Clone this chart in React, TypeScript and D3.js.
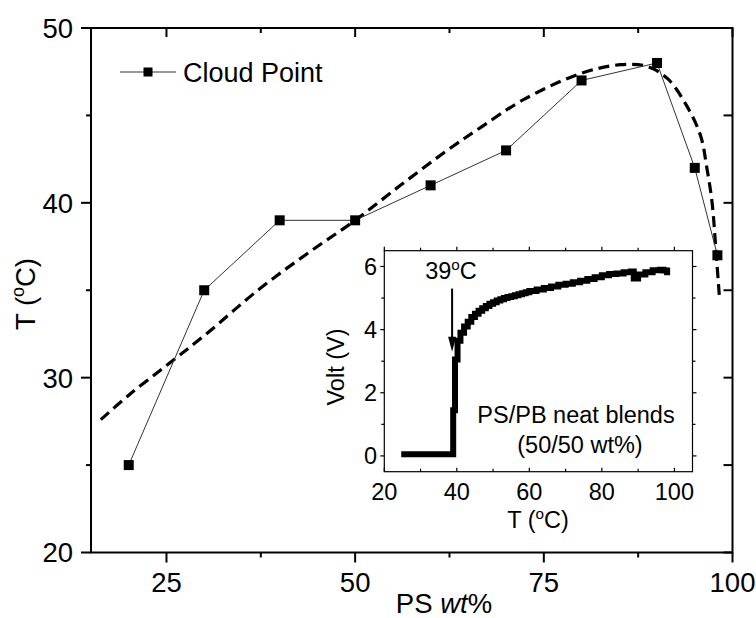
import React from "react";
import * as d3 from "d3";

// Main plot: cloud point data
const psWt = [20, 30, 40, 50, 60, 70, 80, 90, 95, 98];
const cloudT = [25, 35, 39, 39, 41, 43, 47, 48, 42, 37];

// Dashed fitted curve
const fitX = [16.3, 20, 25, 30, 37.4, 44, 50, 56, 62.2, 66.6, 72.3, 79.9, 85.2, 88.7, 91.4, 94.0, 95.8, 96.6, 97.3, 97.8, 98.2, 98.3];
const fitY = [27.6, 29.0, 30.7, 32.4, 35.1, 37.2, 39.0, 41.0, 43.0, 44.3, 45.9, 47.4, 47.9, 47.8, 47.1, 45.5, 43.8, 42.0, 40.0, 37.3, 35.0, 34.4];

const mainXTicks = [25, 50, 75, 100];
const mainXMinor = [37.5, 62.5, 87.5];
const mainYTicks = [20, 30, 40, 50];
const mainYMinor = [25, 35, 45];

// Inset: voltage vs temperature
const insetT = [25.5, 39, 39.5, 40.2, 41, 42, 43, 44, 45, 46, 47, 48, 49, 50, 51, 52, 53, 54, 55, 56, 57, 58, 59, 60, 62, 64, 66, 68, 70, 72, 74, 76, 78, 80, 82, 84, 86, 88, 88.8, 90, 92, 94, 96, 97, 98];
const insetV = [0.05, 1.45, 3.05, 3.65, 3.9, 4.1, 4.25, 4.4, 4.5, 4.6, 4.68, 4.75, 4.82, 4.87, 4.92, 4.96, 5.0, 5.03, 5.06, 5.09, 5.12, 5.15, 5.18, 5.22, 5.27, 5.32, 5.37, 5.42, 5.45, 5.5, 5.55, 5.6, 5.66, 5.72, 5.76, 5.78, 5.82, 5.84, 5.62, 5.75, 5.82, 5.88, 5.9, 5.87, 5.82];
const insetXTicks = [20, 40, 60, 80, 100];
const insetXMinor = [30, 50, 70, 90];
const insetYTicks = [0, 2, 4, 6];
const insetYMinor = [1, 3, 5];

const FONT = "'Liberation Sans', Arial, Helvetica, sans-serif";

export default function App() {
  const W = 756, H = 618;
  const x = d3.scaleLinear().domain([15, 100]).range([91, 732.5]);
  const y = d3.scaleLinear().domain([20, 50]).range([552.5, 28]);

  const ix = d3.scaleLinear().domain([20, 105]).range([384.3, 692.5]);
  const iy = d3.scaleLinear().domain([-0.5, 6.5]).range([471.7, 250.7]);

  const dataLine = d3.line<number>().x((_, i) => x(psWt[i])).y((d) => y(d));
  const fitLine = d3
    .line<number>()
    .x((_, i) => x(fitX[i]))
    .y((d) => y(d))
    .curve(d3.curveCatmullRom.alpha(0.5));
  const insetLine = d3
    .line<number>()
    .x((_, i) => ix(insetT[i]))
    .y((d) => iy(d))
    .curve(d3.curveStepAfter);

  const [x0, x1] = x.range();
  const [y0, y1] = y.range();
  const [ix0, ix1] = ix.range();
  const [iy0, iy1] = iy.range();

  const sup = (base: string, rest: string, size: number) => (
    <>
      {base}
      <tspan dy={-size * 0.4} fontSize={size * 0.65}>o</tspan>
      <tspan dy={size * 0.4}>{rest}</tspan>
    </>
  );

  const arrowX = ix(38.7);
  const arrowTop = iy(5.3);
  const arrowTip = iy(3.3);

  const MF = 27.5; // main font
  const IF = 23.5; // inset font

  return (
    <svg width={W} height={H} style={{ position: "absolute", left: 0, top: 0, background: "#fff" }} fontFamily={FONT}>
      <rect x={0} y={0} width={W} height={H} fill="#fff" />
      {/* Main frame */}
      <rect x={x0} y={y1} width={x1 - x0} height={y0 - y1} fill="none" stroke="#000" strokeWidth={2} />
      {mainXTicks.map((t) => (
        <g key={"mx" + t}>
          <line x1={x(t)} x2={x(t)} y1={y0} y2={y0 + 10} stroke="#000" strokeWidth={2} />
          <line x1={x(t)} x2={x(t)} y1={y1} y2={y1 + 9} stroke="#000" strokeWidth={2} />
          <text x={x(t)} y={592} fontSize={MF} textAnchor="middle">{t}</text>
        </g>
      ))}
      {mainXMinor.map((t) => (
        <g key={"mxm" + t}>
          <line x1={x(t)} x2={x(t)} y1={y0} y2={y0 + 5} stroke="#000" strokeWidth={2} />
          <line x1={x(t)} x2={x(t)} y1={y1} y2={y1 + 5} stroke="#000" strokeWidth={2} />
        </g>
      ))}
      {mainYTicks.map((t) => (
        <g key={"my" + t}>
          <line x1={x0} x2={x0 - 10} y1={y(t)} y2={y(t)} stroke="#000" strokeWidth={2} />
          <line x1={x1} x2={x1 - 9} y1={y(t)} y2={y(t)} stroke="#000" strokeWidth={2} />
          <text x={73} y={y(t)} dy="0.36em" fontSize={MF} textAnchor="end">{t}</text>
        </g>
      ))}
      {mainYMinor.map((t) => (
        <g key={"mym" + t}>
          <line x1={x0} x2={x0 - 5} y1={y(t)} y2={y(t)} stroke="#000" strokeWidth={2} />
          <line x1={x1} x2={x1 - 9} y1={y(t)} y2={y(t)} stroke="#000" strokeWidth={2} />
        </g>
      ))}
      {/* axis titles */}
      <text x={444} y={613} fontSize={MF} textAnchor="middle">
        PS <tspan fontStyle="italic">wt</tspan>%
      </text>
      <text transform={`translate(35,294) rotate(-90)`} fontSize={MF} textAnchor="middle">
        {sup("T (", "C)", MF)}
      </text>

      {/* fitted dashed curve */}
      <path d={fitLine(fitY) || ""} fill="none" stroke="#000" strokeWidth={3.2} strokeDasharray="11,6" />
      {/* cloud point series */}
      <path d={dataLine(cloudT) || ""} fill="none" stroke="#333" strokeWidth={1} />
      {cloudT.map((v, i) => (
        <rect key={"pt" + i} x={x(psWt[i]) - 5} y={y(v) - 5} width={10} height={10} fill="#000" />
      ))}

      {/* legend */}
      <line x1={120} x2={176} y1={72} y2={72} stroke="#333" strokeWidth={1} />
      <rect x={148 - 4.5} y={72 - 4.5} width={9} height={9} fill="#000" />
      <text x={183} y={81.5} fontSize={27}>Cloud Point</text>

      {/* Inset */}
      <rect x={ix0} y={iy1} width={ix1 - ix0} height={iy0 - iy1} fill="#fff" stroke="#000" strokeWidth={1.2} />
      {insetXTicks.map((t) => (
        <g key={"ix" + t}>
          <line x1={ix(t)} x2={ix(t)} y1={iy0} y2={iy0 - 4} stroke="#000" strokeWidth={1.2} />
          <line x1={ix(t)} x2={ix(t)} y1={iy1} y2={iy1 - 4} stroke="#000" strokeWidth={1.2} />
          <text x={ix(t)} y={500} fontSize={IF} textAnchor="middle">{t}</text>
        </g>
      ))}
      {insetXMinor.map((t) => (
        <g key={"ixm" + t}>
          <line x1={ix(t)} x2={ix(t)} y1={iy0} y2={iy0 - 3} stroke="#000" strokeWidth={1.2} />
          <line x1={ix(t)} x2={ix(t)} y1={iy1} y2={iy1 - 3} stroke="#000" strokeWidth={1.2} />
        </g>
      ))}
      {insetYTicks.map((t) => (
        <g key={"iy" + t}>
          <line x1={ix0} x2={ix0 - 4} y1={iy(t)} y2={iy(t)} stroke="#000" strokeWidth={1.2} />
          <line x1={ix1} x2={ix1 + 4} y1={iy(t)} y2={iy(t)} stroke="#000" strokeWidth={1.2} />
          <text x={377} y={iy(t)} dy="0.36em" fontSize={IF} textAnchor="end">{t}</text>
        </g>
      ))}
      {insetYMinor.map((t) => (
        <g key={"iym" + t}>
          <line x1={ix0} x2={ix0 - 3} y1={iy(t)} y2={iy(t)} stroke="#000" strokeWidth={1.2} />
          <line x1={ix1} x2={ix1 + 3} y1={iy(t)} y2={iy(t)} stroke="#000" strokeWidth={1.2} />
        </g>
      ))}
      <text x={538} y={528} fontSize={IF} textAnchor="middle">
        {sup("T (", "C)", IF)}
      </text>
      <text transform={`translate(344,367) rotate(-90)`} fontSize={IF} textAnchor="middle">
        Volt (V)
      </text>
      <path d={insetLine(insetV) || ""} fill="none" stroke="#000" strokeWidth={6} strokeLinejoin="miter" strokeLinecap="square" />

      {/* arrow */}
      <line x1={arrowX} x2={arrowX} y1={arrowTop} y2={arrowTip - 12} stroke="#000" strokeWidth={2} />
      <path d={`M${arrowX - 4},${arrowTip - 15} L${arrowX + 4},${arrowTip - 15} L${arrowX},${arrowTip} Z`} fill="#000" />
      <text x={451} y={279} fontSize={IF} textAnchor="middle">
        {sup("39", "C", IF)}
      </text>
      <text x={576} y={422.7} fontSize={IF} textAnchor="middle">PS/PB neat blends</text>
      <text x={580} y={453.3} fontSize={IF} textAnchor="middle">(50/50 wt%)</text>
    </svg>
  );
}
